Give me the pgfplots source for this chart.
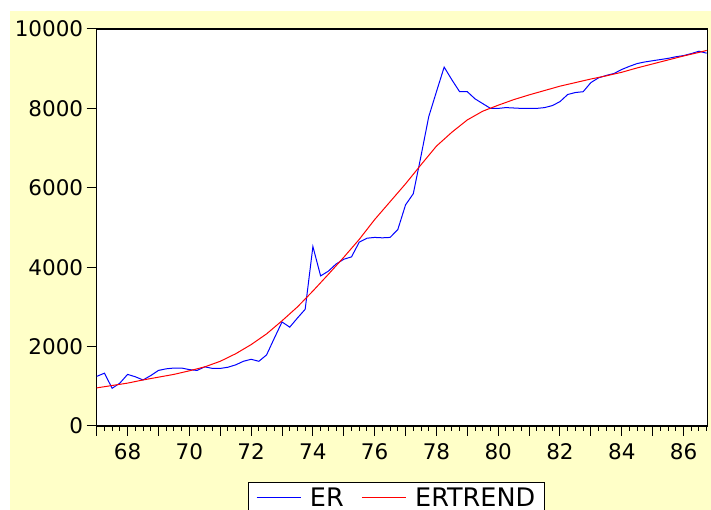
\documentclass[border=0pt]{standalone}
\usepackage{fontspec}
\setmainfont{DejaVu Sans}
\usepackage{pgfplots}
\pgfplotsset{compat=1.18}

\definecolor{bgyellow}{RGB}{255,255,200}
\definecolor{erblue}{RGB}{0,0,255}
\definecolor{trendred}{RGB}{255,0,0}

\begin{document}
\begin{tikzpicture}[x=1pt,y=1pt]
\useasboundingbox (0,0) rectangle (711,510);
\fill[white] (0,0) rectangle (711,510);
\fill[bgyellow] (10,0) rectangle (711,499);
\begin{axis}[
  at={(96.7pt,84pt)}, anchor=south west,
  scale only axis, width=610.6pt, height=397pt,
  xmin=67, xmax=86.77, ymin=0, ymax=10000,
  axis background/.style={fill=white},
  axis line style={black, line width=1.5pt},
  tick align=outside, xtick pos=lower, ytick pos=left,
  xtick={67,68,...,86},
  xticklabels={{},68,{},70,{},72,{},74,{},76,{},78,{},80,{},82,{},84,{},86},
  minor xtick={67,67.25,...,86.75},
  ytick={0,2000,...,10000},
  scaled y ticks=false,
  major tick length=10pt, minor tick length=5pt,
  tick style={black, line width=1pt},
  tick label style={font=\fontsize{21.5}{25}\selectfont},
  xticklabel style={yshift=-4pt},
  /pgf/number format/assume math mode=true,
  /pgf/number format/1000 sep={},
  legend style={at={(0.2478,-0.141)}, anchor=north west,
    draw=black, line width=1pt, fill=white,
    font=\fontsize{25.5}{30}\selectfont,
    inner xsep=7.7pt, inner ysep=3pt,
    /tikz/every odd column/.append style={column sep=6.7pt},
    /tikz/every even column/.append style={column sep=15.7pt}},
  legend columns=2,
  legend image code/.code={\draw[#1] (0pt,0pt) -- (44pt,0pt);},
]
\addplot[erblue, line width=1pt] coordinates {
(67.00,1250) (67.25,1330) (67.50,950) (67.75,1080)
(68.00,1300) (68.25,1240) (68.50,1160) (68.75,1270)
(69.00,1400) (69.25,1440) (69.50,1460) (69.75,1460)
(70.00,1420) (70.25,1400) (70.50,1490) (70.75,1450)
(71.00,1450) (71.25,1480) (71.50,1540) (71.75,1630)
(72.00,1680) (72.25,1630) (72.50,1790) (72.75,2210)
(73.00,2620) (73.25,2490) (73.50,2720) (73.75,2940)
(74.00,4520) (74.25,3780) (74.50,3900) (74.75,4080)
(75.00,4200) (75.25,4260) (75.50,4630) (75.75,4730)
(76.00,4750) (76.25,4740) (76.50,4750) (76.75,4950)
(77.00,5570) (77.25,5850) (77.50,6800) (77.75,7790)
(78.00,8420) (78.25,9040) (78.50,8720) (78.75,8420)
(79.00,8420) (79.25,8240) (79.50,8120) (79.75,8000)
(80.00,8000) (80.25,8020) (80.50,8010) (80.75,8000)
(81.00,8000) (81.25,8000) (81.50,8020) (81.75,8070)
(82.00,8170) (82.25,8350) (82.50,8400) (82.75,8420)
(83.00,8650) (83.25,8770) (83.50,8830) (83.75,8880)
(84.00,8980) (84.25,9060) (84.50,9130) (84.75,9170)
(85.00,9200) (85.25,9230) (85.50,9260) (85.75,9300)
(86.00,9330) (86.25,9380) (86.50,9440) (86.75,9390)
};
\addplot[trendred, line width=1pt] coordinates {
(67.0,960) (67.5,1020) (68.0,1080) (68.5,1160) (69.0,1230)
(69.5,1300) (70.0,1390) (70.5,1490) (71.0,1630) (71.5,1820)
(72.0,2050) (72.5,2320) (73.0,2650) (73.5,3000) (74.0,3400)
(74.5,3820) (75.0,4250) (75.5,4700) (76.0,5200) (76.5,5650)
(77.0,6100) (77.5,6580) (78.0,7050) (78.5,7400) (79.0,7710)
(79.5,7930) (80.0,8080) (80.5,8220) (81.0,8340) (81.5,8450)
(82.0,8560) (82.5,8650) (83.0,8740) (83.5,8820) (84.0,8910)
(84.5,9020) (85.0,9120) (85.5,9220) (86.0,9320) (86.5,9410)
(86.75,9460)
};
\legend{ER,ERTREND}
\end{axis}
\end{tikzpicture}
\end{document}
